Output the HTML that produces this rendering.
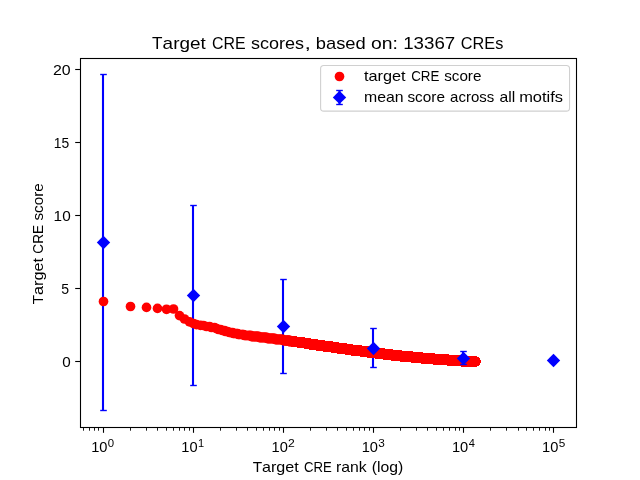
<!DOCTYPE html>
<html><head><meta charset="utf-8"><title>Target CRE scores</title>
<style>html,body{margin:0;padding:0;background:#fff;}body{width:640px;height:480px;overflow:hidden;}svg{display:block;will-change:transform;}text{font-family:"Liberation Sans",sans-serif;fill:#000;}</style></head><body>
<svg width="640" height="480" viewBox="0 0 640 480">
<rect width="640" height="480" fill="#fff"/>
<g stroke="#0000ff" stroke-width="2.1" fill="none">
<line x1="103.0" y1="74.50" x2="103.0" y2="410.50"/>
<line x1="193.0" y1="205.50" x2="193.0" y2="385.50"/>
<line x1="283.0" y1="279.50" x2="283.0" y2="373.50"/>
<line x1="373.0" y1="328.50" x2="373.0" y2="367.50"/>
<line x1="463.0" y1="351.50" x2="463.0" y2="364.50"/>
</g>
<g fill="#ff0000" stroke="none">
<circle cx="103.5" cy="301.50" r="4.85"/>
<circle cx="130.5" cy="306.50" r="4.85"/>
<circle cx="146.5" cy="307.40" r="4.85"/>
<circle cx="157.5" cy="308.40" r="4.85"/>
<circle cx="166.5" cy="309.30" r="4.85"/>
<circle cx="173.5" cy="309.00" r="4.85"/>
<circle cx="179.5" cy="315.60" r="4.85"/>
<circle cx="184.5" cy="319.00" r="4.85"/>
<circle cx="189.5" cy="321.90" r="4.85"/>
<circle cx="193.5" cy="323.50" r="4.85"/>
<circle cx="196.5" cy="324.62" r="4.85"/>
<circle cx="200.5" cy="325.34" r="4.85"/>
<circle cx="203.5" cy="325.50" r="4.85"/>
<circle cx="206.5" cy="326.50" r="4.85"/>
<circle cx="209.5" cy="326.50" r="4.85"/>
<circle cx="211.5" cy="327.50" r="4.85"/>
<circle cx="214.5" cy="327.50" r="4.85"/>
<circle cx="216.5" cy="328.50" r="4.85"/>
<circle cx="218.5" cy="329.50" r="4.85"/>
<circle cx="220.5" cy="329.50" r="4.85"/>
<circle cx="222.5" cy="330.50" r="4.85"/>
<circle cx="224.5" cy="330.50" r="4.85"/>
<circle cx="225.5" cy="331.50" r="4.85"/>
<circle cx="227.5" cy="331.50" r="4.85"/>
<circle cx="229.5" cy="332.50" r="4.85"/>
<circle cx="230.5" cy="332.50" r="4.85"/>
<circle cx="232.5" cy="332.50" r="4.85"/>
<circle cx="233.5" cy="333.50" r="4.85"/>
<circle cx="234.5" cy="333.50" r="4.85"/>
<circle cx="236.5" cy="333.50" r="4.85"/>
<circle cx="237.5" cy="333.50" r="4.85"/>
<circle cx="238.5" cy="334.50" r="4.85"/>
<circle cx="239.5" cy="334.50" r="4.85"/>
<circle cx="241.5" cy="334.50" r="4.85"/>
<circle cx="242.5" cy="334.50" r="4.85"/>
<circle cx="243.5" cy="334.50" r="4.85"/>
<circle cx="244.5" cy="335.50" r="4.85"/>
<circle cx="245.5" cy="335.50" r="4.85"/>
<circle cx="246.5" cy="335.50" r="4.85"/>
<circle cx="247.5" cy="335.50" r="4.86"/>
<circle cx="248.5" cy="335.50" r="4.87"/>
<circle cx="249.5" cy="335.50" r="4.87"/>
<circle cx="250.5" cy="335.50" r="4.88"/>
<circle cx="251.5" cy="336.50" r="4.89"/>
<circle cx="252.5" cy="336.50" r="4.90"/>
<circle cx="253.5" cy="336.50" r="4.91"/>
<circle cx="254.5" cy="336.50" r="4.92"/>
<circle cx="255.5" cy="336.50" r="4.92"/>
<circle cx="256.5" cy="336.50" r="4.93"/>
<circle cx="257.5" cy="336.50" r="4.94"/>
<circle cx="258.5" cy="336.50" r="4.95"/>
<circle cx="259.5" cy="337.50" r="4.95"/>
<circle cx="260.5" cy="337.50" r="4.97"/>
<circle cx="261.5" cy="337.50" r="4.97"/>
<circle cx="262.5" cy="337.50" r="4.98"/>
<circle cx="263.5" cy="337.50" r="4.99"/>
<circle cx="264.5" cy="337.50" r="4.99"/>
<circle cx="265.5" cy="337.50" r="5.00"/>
<circle cx="266.5" cy="337.50" r="5.01"/>
<circle cx="267.5" cy="338.50" r="5.01"/>
<circle cx="268.5" cy="338.50" r="5.02"/>
<circle cx="269.5" cy="338.50" r="5.03"/>
<circle cx="270.5" cy="338.50" r="5.04"/>
<circle cx="271.5" cy="338.50" r="5.04"/>
<circle cx="272.5" cy="338.50" r="5.05"/>
<circle cx="273.5" cy="338.50" r="5.05"/>
<circle cx="274.5" cy="338.50" r="5.06"/>
<circle cx="275.5" cy="339.50" r="5.07"/>
<circle cx="276.5" cy="339.50" r="5.07"/>
<circle cx="277.5" cy="339.50" r="5.08"/>
<circle cx="278.5" cy="339.50" r="5.08"/>
<circle cx="279.5" cy="339.50" r="5.09"/>
<circle cx="280.5" cy="339.50" r="5.09"/>
<circle cx="281.5" cy="339.50" r="5.10"/>
<circle cx="282.5" cy="339.50" r="5.11"/>
<circle cx="283.5" cy="340.50" r="5.11"/>
<circle cx="284.5" cy="340.50" r="5.12"/>
<circle cx="285.5" cy="340.50" r="5.12"/>
<circle cx="286.5" cy="340.50" r="5.13"/>
<circle cx="287.5" cy="340.50" r="5.13"/>
<circle cx="288.5" cy="340.50" r="5.14"/>
<circle cx="289.5" cy="340.50" r="5.14"/>
<circle cx="290.5" cy="341.50" r="5.15"/>
</g>
<g fill="#ff0000" stroke="none" shape-rendering="crispEdges">
<circle cx="291.5" cy="341.50" r="5.15"/>
<circle cx="292.5" cy="341.50" r="5.15"/>
<circle cx="293.5" cy="341.50" r="5.16"/>
<circle cx="294.5" cy="341.50" r="5.16"/>
<circle cx="295.5" cy="341.50" r="5.17"/>
<circle cx="296.5" cy="341.50" r="5.17"/>
<circle cx="297.5" cy="342.50" r="5.18"/>
<circle cx="298.5" cy="342.50" r="5.18"/>
<circle cx="299.5" cy="342.50" r="5.18"/>
<circle cx="300.5" cy="342.50" r="5.19"/>
<circle cx="301.5" cy="342.50" r="5.19"/>
<circle cx="302.5" cy="342.50" r="5.19"/>
<circle cx="303.5" cy="342.50" r="5.20"/>
<circle cx="304.5" cy="343.50" r="5.20"/>
<circle cx="305.5" cy="343.50" r="5.21"/>
<circle cx="306.5" cy="343.50" r="5.21"/>
<circle cx="307.5" cy="343.50" r="5.21"/>
<circle cx="308.5" cy="343.50" r="5.22"/>
<circle cx="309.5" cy="343.50" r="5.22"/>
<circle cx="310.5" cy="344.50" r="5.22"/>
<circle cx="311.5" cy="344.50" r="5.22"/>
<circle cx="312.5" cy="344.50" r="5.23"/>
<circle cx="313.5" cy="344.50" r="5.23"/>
<circle cx="314.5" cy="344.50" r="5.23"/>
<circle cx="315.5" cy="344.50" r="5.24"/>
<circle cx="316.5" cy="344.50" r="5.24"/>
<circle cx="317.5" cy="345.50" r="5.24"/>
<circle cx="318.5" cy="345.50" r="5.24"/>
<circle cx="319.5" cy="345.50" r="5.25"/>
<circle cx="320.5" cy="345.50" r="5.25"/>
<circle cx="321.5" cy="345.50" r="5.25"/>
<circle cx="322.5" cy="345.50" r="5.25"/>
<circle cx="323.5" cy="345.50" r="5.26"/>
<circle cx="324.5" cy="346.50" r="5.26"/>
<circle cx="325.5" cy="346.50" r="5.26"/>
<circle cx="326.5" cy="346.50" r="5.26"/>
<circle cx="327.5" cy="346.50" r="5.26"/>
<circle cx="328.5" cy="346.50" r="5.27"/>
<circle cx="329.5" cy="346.50" r="5.27"/>
<circle cx="330.5" cy="346.50" r="5.27"/>
<circle cx="331.5" cy="346.50" r="5.27"/>
<circle cx="332.5" cy="347.50" r="5.27"/>
<circle cx="333.5" cy="347.50" r="5.28"/>
<circle cx="334.5" cy="347.50" r="5.28"/>
<circle cx="335.5" cy="347.50" r="5.28"/>
<circle cx="336.5" cy="347.50" r="5.28"/>
<circle cx="337.5" cy="347.50" r="5.28"/>
<circle cx="338.5" cy="348.50" r="5.29"/>
<circle cx="339.5" cy="348.50" r="5.29"/>
<circle cx="340.5" cy="348.50" r="5.29"/>
<circle cx="341.5" cy="348.50" r="5.29"/>
<circle cx="342.5" cy="348.50" r="5.29"/>
<circle cx="343.5" cy="348.50" r="5.29"/>
<circle cx="344.5" cy="348.50" r="5.29"/>
<circle cx="345.5" cy="348.50" r="5.30"/>
<circle cx="346.5" cy="349.50" r="5.30"/>
<circle cx="347.5" cy="349.50" r="5.30"/>
<circle cx="348.5" cy="349.50" r="5.30"/>
<circle cx="349.5" cy="349.50" r="5.30"/>
<circle cx="350.5" cy="349.50" r="5.30"/>
<circle cx="351.5" cy="349.50" r="5.30"/>
<circle cx="352.5" cy="350.50" r="5.30"/>
<circle cx="353.5" cy="350.50" r="5.31"/>
<circle cx="354.5" cy="350.50" r="5.31"/>
<circle cx="355.5" cy="350.50" r="5.31"/>
<circle cx="356.5" cy="350.50" r="5.31"/>
<circle cx="357.5" cy="350.50" r="5.31"/>
<circle cx="358.5" cy="350.50" r="5.31"/>
<circle cx="359.5" cy="350.50" r="5.31"/>
<circle cx="360.5" cy="350.50" r="5.31"/>
<circle cx="361.5" cy="351.50" r="5.31"/>
<circle cx="362.5" cy="351.50" r="5.31"/>
<circle cx="363.5" cy="351.50" r="5.32"/>
<circle cx="364.5" cy="351.50" r="5.32"/>
<circle cx="365.5" cy="351.50" r="5.32"/>
<circle cx="366.5" cy="351.50" r="5.32"/>
<circle cx="367.5" cy="351.50" r="5.32"/>
<circle cx="368.5" cy="352.50" r="5.32"/>
<circle cx="369.5" cy="352.50" r="5.32"/>
<circle cx="370.5" cy="352.50" r="5.32"/>
<circle cx="371.5" cy="352.50" r="5.32"/>
<circle cx="372.5" cy="352.50" r="5.32"/>
<circle cx="373.5" cy="352.50" r="5.32"/>
<circle cx="374.5" cy="352.50" r="5.32"/>
<circle cx="375.5" cy="352.50" r="5.32"/>
<circle cx="376.5" cy="353.50" r="5.32"/>
<circle cx="377.5" cy="353.50" r="5.33"/>
<circle cx="378.5" cy="353.50" r="5.33"/>
<circle cx="379.5" cy="353.50" r="5.33"/>
<circle cx="380.5" cy="353.50" r="5.33"/>
<circle cx="381.5" cy="353.50" r="5.33"/>
<circle cx="382.5" cy="353.50" r="5.33"/>
<circle cx="383.5" cy="353.50" r="5.33"/>
<circle cx="384.5" cy="354.50" r="5.33"/>
<circle cx="385.5" cy="354.50" r="5.33"/>
<circle cx="386.5" cy="354.50" r="5.33"/>
<circle cx="387.5" cy="354.50" r="5.33"/>
<circle cx="388.5" cy="354.50" r="5.33"/>
<circle cx="389.5" cy="354.50" r="5.33"/>
<circle cx="390.5" cy="354.50" r="5.33"/>
<circle cx="391.5" cy="354.50" r="5.33"/>
<circle cx="392.5" cy="355.50" r="5.33"/>
<circle cx="393.5" cy="355.50" r="5.33"/>
<circle cx="394.5" cy="355.50" r="5.33"/>
<circle cx="395.5" cy="355.50" r="5.33"/>
<circle cx="396.5" cy="355.50" r="5.33"/>
<circle cx="397.5" cy="355.50" r="5.34"/>
<circle cx="398.5" cy="355.50" r="5.34"/>
<circle cx="399.5" cy="355.50" r="5.34"/>
<circle cx="400.5" cy="355.50" r="5.34"/>
<circle cx="401.5" cy="356.50" r="5.34"/>
<circle cx="402.5" cy="356.50" r="5.34"/>
<circle cx="403.5" cy="356.50" r="5.34"/>
<circle cx="404.5" cy="356.50" r="5.34"/>
<circle cx="405.5" cy="356.50" r="5.34"/>
<circle cx="406.5" cy="356.50" r="5.34"/>
<circle cx="407.5" cy="356.50" r="5.34"/>
<circle cx="408.5" cy="356.50" r="5.34"/>
<circle cx="409.5" cy="356.50" r="5.34"/>
<circle cx="410.5" cy="356.50" r="5.34"/>
<circle cx="411.5" cy="356.50" r="5.34"/>
<circle cx="412.5" cy="357.50" r="5.34"/>
<circle cx="413.5" cy="357.50" r="5.34"/>
<circle cx="414.5" cy="357.50" r="5.34"/>
<circle cx="415.5" cy="357.50" r="5.34"/>
<circle cx="416.5" cy="357.50" r="5.34"/>
<circle cx="417.5" cy="357.50" r="5.34"/>
<circle cx="418.5" cy="357.50" r="5.34"/>
<circle cx="419.5" cy="357.50" r="5.34"/>
<circle cx="420.5" cy="357.50" r="5.34"/>
<circle cx="421.5" cy="357.50" r="5.34"/>
<circle cx="422.5" cy="358.50" r="5.34"/>
<circle cx="423.5" cy="358.50" r="5.34"/>
<circle cx="424.5" cy="358.50" r="5.34"/>
<circle cx="425.5" cy="358.50" r="5.34"/>
<circle cx="426.5" cy="358.50" r="5.34"/>
<circle cx="427.5" cy="358.50" r="5.34"/>
<circle cx="428.5" cy="358.50" r="5.34"/>
<circle cx="429.5" cy="358.50" r="5.34"/>
<circle cx="430.5" cy="358.50" r="5.34"/>
<circle cx="431.5" cy="358.50" r="5.34"/>
<circle cx="432.5" cy="358.50" r="5.34"/>
<circle cx="433.5" cy="358.50" r="5.34"/>
<circle cx="434.5" cy="359.50" r="5.34"/>
<circle cx="435.5" cy="359.50" r="5.34"/>
<circle cx="436.5" cy="359.50" r="5.34"/>
<circle cx="437.5" cy="359.50" r="5.34"/>
<circle cx="438.5" cy="359.50" r="5.34"/>
<circle cx="439.5" cy="359.50" r="5.34"/>
<circle cx="440.5" cy="359.50" r="5.35"/>
<circle cx="441.5" cy="359.50" r="5.35"/>
<circle cx="442.5" cy="359.50" r="5.35"/>
<circle cx="443.5" cy="359.50" r="5.35"/>
<circle cx="444.5" cy="359.50" r="5.35"/>
<circle cx="445.5" cy="359.50" r="5.35"/>
<circle cx="446.5" cy="359.50" r="5.35"/>
<circle cx="447.5" cy="359.50" r="5.35"/>
<circle cx="448.5" cy="360.50" r="5.35"/>
<circle cx="449.5" cy="360.50" r="5.35"/>
<circle cx="450.5" cy="360.50" r="5.35"/>
<circle cx="451.5" cy="360.50" r="5.35"/>
<circle cx="452.5" cy="360.50" r="5.35"/>
<circle cx="453.5" cy="360.50" r="5.35"/>
<circle cx="454.5" cy="360.50" r="5.35"/>
<circle cx="455.5" cy="360.50" r="5.35"/>
<circle cx="456.5" cy="360.50" r="5.35"/>
<circle cx="457.5" cy="360.50" r="5.35"/>
<circle cx="458.5" cy="360.50" r="5.35"/>
<circle cx="459.5" cy="360.50" r="5.35"/>
<circle cx="460.5" cy="360.50" r="5.35"/>
<circle cx="461.5" cy="360.50" r="5.35"/>
<circle cx="462.5" cy="361.50" r="5.35"/>
<circle cx="463.5" cy="361.50" r="5.35"/>
<circle cx="464.5" cy="361.50" r="5.35"/>
<circle cx="465.5" cy="361.50" r="5.35"/>
<circle cx="466.5" cy="361.50" r="5.35"/>
<circle cx="467.5" cy="361.50" r="5.35"/>
<circle cx="468.5" cy="361.50" r="5.35"/>
<circle cx="469.5" cy="361.50" r="5.35"/>
<circle cx="470.5" cy="361.50" r="5.35"/>
<circle cx="471.5" cy="361.50" r="5.35"/>
<circle cx="472.5" cy="361.50" r="5.35"/>
<circle cx="473.5" cy="361.50" r="5.35"/>
<circle cx="474.5" cy="361.50" r="5.35"/>
<circle cx="475.5" cy="361.50" r="5.35"/>
</g>
<g stroke="#0000ff" stroke-width="1.39" fill="none">
<line x1="100.20" y1="74.50" x2="106.80" y2="74.50"/>
<line x1="100.20" y1="410.50" x2="106.80" y2="410.50"/>
<line x1="190.20" y1="205.50" x2="196.80" y2="205.50"/>
<line x1="190.20" y1="385.50" x2="196.80" y2="385.50"/>
<line x1="280.20" y1="279.50" x2="286.80" y2="279.50"/>
<line x1="280.20" y1="373.50" x2="286.80" y2="373.50"/>
<line x1="370.20" y1="328.50" x2="376.80" y2="328.50"/>
<line x1="370.20" y1="367.50" x2="376.80" y2="367.50"/>
<line x1="460.20" y1="351.50" x2="466.80" y2="351.50"/>
<line x1="460.20" y1="364.50" x2="466.80" y2="364.50"/>
</g>
<g fill="#0000ff" stroke="none">
<path d="M103.50,235.80 L110.20,242.50 L103.50,249.20 L96.80,242.50 Z"/>
<path d="M193.50,288.80 L200.20,295.50 L193.50,302.20 L186.80,295.50 Z"/>
<path d="M283.50,319.80 L290.20,326.50 L283.50,333.20 L276.80,326.50 Z"/>
<path d="M373.50,341.80 L380.20,348.50 L373.50,355.20 L366.80,348.50 Z"/>
<path d="M463.50,351.80 L470.20,358.50 L463.50,365.20 L456.80,358.50 Z"/>
<path d="M553.50,353.80 L560.20,360.50 L553.50,367.20 L546.80,360.50 Z"/>
</g>
<rect x="80.5" y="58.5" width="496.0" height="369.0" fill="none" stroke="#000" stroke-width="1.1"/>
<g stroke="#000" stroke-width="1.1" fill="none">
<line x1="103.5" y1="427.5" x2="103.5" y2="432.8"/>
<line x1="193.5" y1="427.5" x2="193.5" y2="432.8"/>
<line x1="283.5" y1="427.5" x2="283.5" y2="432.8"/>
<line x1="373.5" y1="427.5" x2="373.5" y2="432.8"/>
<line x1="463.5" y1="427.5" x2="463.5" y2="432.8"/>
<line x1="553.5" y1="427.5" x2="553.5" y2="432.8"/>
<line x1="83.5" y1="427.5" x2="83.5" y2="430.7" stroke-width="0.9"/>
<line x1="89.5" y1="427.5" x2="89.5" y2="430.7" stroke-width="0.9"/>
<line x1="94.5" y1="427.5" x2="94.5" y2="430.7" stroke-width="0.9"/>
<line x1="98.5" y1="427.5" x2="98.5" y2="430.7" stroke-width="0.9"/>
<line x1="130.5" y1="427.5" x2="130.5" y2="430.7" stroke-width="0.9"/>
<line x1="146.5" y1="427.5" x2="146.5" y2="430.7" stroke-width="0.9"/>
<line x1="157.5" y1="427.5" x2="157.5" y2="430.7" stroke-width="0.9"/>
<line x1="166.5" y1="427.5" x2="166.5" y2="430.7" stroke-width="0.9"/>
<line x1="173.5" y1="427.5" x2="173.5" y2="430.7" stroke-width="0.9"/>
<line x1="179.5" y1="427.5" x2="179.5" y2="430.7" stroke-width="0.9"/>
<line x1="184.5" y1="427.5" x2="184.5" y2="430.7" stroke-width="0.9"/>
<line x1="189.5" y1="427.5" x2="189.5" y2="430.7" stroke-width="0.9"/>
<line x1="220.5" y1="427.5" x2="220.5" y2="430.7" stroke-width="0.9"/>
<line x1="236.5" y1="427.5" x2="236.5" y2="430.7" stroke-width="0.9"/>
<line x1="247.5" y1="427.5" x2="247.5" y2="430.7" stroke-width="0.9"/>
<line x1="256.5" y1="427.5" x2="256.5" y2="430.7" stroke-width="0.9"/>
<line x1="263.5" y1="427.5" x2="263.5" y2="430.7" stroke-width="0.9"/>
<line x1="269.5" y1="427.5" x2="269.5" y2="430.7" stroke-width="0.9"/>
<line x1="274.5" y1="427.5" x2="274.5" y2="430.7" stroke-width="0.9"/>
<line x1="279.5" y1="427.5" x2="279.5" y2="430.7" stroke-width="0.9"/>
<line x1="310.5" y1="427.5" x2="310.5" y2="430.7" stroke-width="0.9"/>
<line x1="326.5" y1="427.5" x2="326.5" y2="430.7" stroke-width="0.9"/>
<line x1="337.5" y1="427.5" x2="337.5" y2="430.7" stroke-width="0.9"/>
<line x1="346.5" y1="427.5" x2="346.5" y2="430.7" stroke-width="0.9"/>
<line x1="353.5" y1="427.5" x2="353.5" y2="430.7" stroke-width="0.9"/>
<line x1="359.5" y1="427.5" x2="359.5" y2="430.7" stroke-width="0.9"/>
<line x1="364.5" y1="427.5" x2="364.5" y2="430.7" stroke-width="0.9"/>
<line x1="369.5" y1="427.5" x2="369.5" y2="430.7" stroke-width="0.9"/>
<line x1="400.5" y1="427.5" x2="400.5" y2="430.7" stroke-width="0.9"/>
<line x1="416.5" y1="427.5" x2="416.5" y2="430.7" stroke-width="0.9"/>
<line x1="427.5" y1="427.5" x2="427.5" y2="430.7" stroke-width="0.9"/>
<line x1="436.5" y1="427.5" x2="436.5" y2="430.7" stroke-width="0.9"/>
<line x1="443.5" y1="427.5" x2="443.5" y2="430.7" stroke-width="0.9"/>
<line x1="449.5" y1="427.5" x2="449.5" y2="430.7" stroke-width="0.9"/>
<line x1="455.5" y1="427.5" x2="455.5" y2="430.7" stroke-width="0.9"/>
<line x1="459.5" y1="427.5" x2="459.5" y2="430.7" stroke-width="0.9"/>
<line x1="490.5" y1="427.5" x2="490.5" y2="430.7" stroke-width="0.9"/>
<line x1="506.5" y1="427.5" x2="506.5" y2="430.7" stroke-width="0.9"/>
<line x1="518.5" y1="427.5" x2="518.5" y2="430.7" stroke-width="0.9"/>
<line x1="526.5" y1="427.5" x2="526.5" y2="430.7" stroke-width="0.9"/>
<line x1="533.5" y1="427.5" x2="533.5" y2="430.7" stroke-width="0.9"/>
<line x1="539.5" y1="427.5" x2="539.5" y2="430.7" stroke-width="0.9"/>
<line x1="545.5" y1="427.5" x2="545.5" y2="430.7" stroke-width="0.9"/>
<line x1="549.5" y1="427.5" x2="549.5" y2="430.7" stroke-width="0.9"/>
<line x1="75.2" y1="361.5" x2="80.5" y2="361.5"/>
<line x1="75.2" y1="288.5" x2="80.5" y2="288.5"/>
<line x1="75.2" y1="215.5" x2="80.5" y2="215.5"/>
<line x1="75.2" y1="142.5" x2="80.5" y2="142.5"/>
<line x1="75.2" y1="69.5" x2="80.5" y2="69.5"/>
</g>
<rect x="320.6" y="65.55" width="248.95" height="45.6" rx="3.2" ry="3.2" fill="#fff" fill-opacity="0.8" stroke="#d0d0d0" stroke-width="1.1"/>
<circle cx="339.5" cy="76.5" r="4.85" fill="#ff0000"/>
<line x1="339.5" y1="90.5" x2="339.5" y2="104.5" stroke="#0000ff" stroke-width="2.1"/>
<line x1="336.2" y1="90.5" x2="342.8" y2="90.5" stroke="#0000ff" stroke-width="1.39"/>
<line x1="336.2" y1="104.5" x2="342.8" y2="104.5" stroke="#0000ff" stroke-width="1.39"/>
<path d="M339.5,90.7 L346.2,97.4 L339.5,104.10000000000001 L332.8,97.4 Z" fill="#0000ff"/>
<text x="151.93" y="49.00" font-size="17.0" textLength="10.46" lengthAdjust="spacingAndGlyphs">T</text>
<text x="162.61" y="49.00" font-size="17.0" textLength="43.13" lengthAdjust="spacingAndGlyphs">arget</text>
<text x="212.05" y="49.00" font-size="17.0" textLength="33.61" lengthAdjust="spacingAndGlyphs">CRE</text>
<text x="251.02" y="49.00" font-size="17.0" textLength="53.04" lengthAdjust="spacingAndGlyphs">scores</text>
<text x="304.59" y="49.00" font-size="17.0" textLength="6.45" lengthAdjust="spacingAndGlyphs">,</text>
<text x="315.75" y="49.00" font-size="17.0" textLength="49.98" lengthAdjust="spacingAndGlyphs">based</text>
<text x="370.99" y="49.00" font-size="17.0" textLength="26.96" lengthAdjust="spacingAndGlyphs">on:</text>
<text x="403.23" y="49.00" font-size="17.0" textLength="52.03" lengthAdjust="spacingAndGlyphs">13367</text>
<text x="460.84" y="49.00" font-size="17.0" textLength="42.47" lengthAdjust="spacingAndGlyphs">CREs</text>
<text x="252.66" y="472.00" font-size="14.2" textLength="9.40" lengthAdjust="spacingAndGlyphs">T</text>
<text x="262.00" y="472.00" font-size="14.2" textLength="36.70" lengthAdjust="spacingAndGlyphs">arget</text>
<text x="303.98" y="472.00" font-size="14.2" textLength="27.82" lengthAdjust="spacingAndGlyphs">CRE</text>
<text x="336.01" y="472.00" font-size="14.2" textLength="30.74" lengthAdjust="spacingAndGlyphs">rank</text>
<text x="371.76" y="472.00" font-size="14.2" textLength="31.56" lengthAdjust="spacingAndGlyphs">(log)</text>
<text transform="translate(42.70,304.24) rotate(-90)" font-size="14.2" textLength="9.30" lengthAdjust="spacingAndGlyphs">T</text>
<text transform="translate(42.70,295.01) rotate(-90)" font-size="14.2" textLength="37.05" lengthAdjust="spacingAndGlyphs">arget</text>
<text transform="translate(42.70,253.64) rotate(-90)" font-size="14.2" textLength="28.71" lengthAdjust="spacingAndGlyphs">CRE</text>
<text transform="translate(42.70,220.54) rotate(-90)" font-size="14.2" textLength="37.36" lengthAdjust="spacingAndGlyphs">score</text>
<text x="364.00" y="81.00" font-size="14.2" textLength="41.64" lengthAdjust="spacingAndGlyphs">target</text>
<text x="411.17" y="81.00" font-size="14.2" textLength="28.19" lengthAdjust="spacingAndGlyphs">CRE</text>
<text x="444.16" y="81.00" font-size="14.2" textLength="37.26" lengthAdjust="spacingAndGlyphs">score</text>
<text x="364.01" y="102.00" font-size="14.2" textLength="39.58" lengthAdjust="spacingAndGlyphs">mean</text>
<text x="407.46" y="102.00" font-size="14.2" textLength="37.46" lengthAdjust="spacingAndGlyphs">score</text>
<text x="450.13" y="102.00" font-size="14.2" textLength="44.14" lengthAdjust="spacingAndGlyphs">across</text>
<text x="499.41" y="102.00" font-size="14.2" textLength="15.73" lengthAdjust="spacingAndGlyphs">all</text>
<text x="519.17" y="102.00" font-size="14.2" textLength="43.84" lengthAdjust="spacingAndGlyphs">motifs</text>
<text x="62.23" y="366.90" font-size="14.2" textLength="8.45" lengthAdjust="spacingAndGlyphs">0</text>
<text x="61.36" y="293.90" font-size="14.2" textLength="7.81" lengthAdjust="spacingAndGlyphs">5</text>
<text x="53.64" y="220.90" font-size="14.2" textLength="17.04" lengthAdjust="spacingAndGlyphs">10</text>
<text x="53.73" y="147.90" font-size="14.2" textLength="15.43" lengthAdjust="spacingAndGlyphs">15</text>
<text x="53.00" y="74.90" font-size="14.2" textLength="17.69" lengthAdjust="spacingAndGlyphs">20</text>
<text x="91.18" y="452.00" font-size="14.2" textLength="16.28" lengthAdjust="spacingAndGlyphs">10</text>
<text x="107.84" y="447.00" font-size="10.0" textLength="6.34" lengthAdjust="spacingAndGlyphs">0</text>
<text x="181.36" y="452.00" font-size="14.2" textLength="16.28" lengthAdjust="spacingAndGlyphs">10</text>
<text x="198.04" y="447.00" font-size="10.0" textLength="6.14" lengthAdjust="spacingAndGlyphs">1</text>
<text x="271.54" y="452.00" font-size="14.2" textLength="16.28" lengthAdjust="spacingAndGlyphs">10</text>
<text x="287.99" y="447.00" font-size="10.0" textLength="6.76" lengthAdjust="spacingAndGlyphs">2</text>
<text x="361.72" y="452.00" font-size="14.2" textLength="16.28" lengthAdjust="spacingAndGlyphs">10</text>
<text x="378.37" y="447.00" font-size="10.0" textLength="6.54" lengthAdjust="spacingAndGlyphs">3</text>
<text x="451.90" y="452.00" font-size="14.2" textLength="16.28" lengthAdjust="spacingAndGlyphs">10</text>
<text x="468.74" y="447.00" font-size="10.0" textLength="6.15" lengthAdjust="spacingAndGlyphs">4</text>
<text x="542.08" y="452.00" font-size="14.2" textLength="16.28" lengthAdjust="spacingAndGlyphs">10</text>
<text x="558.73" y="447.00" font-size="10.0" textLength="6.54" lengthAdjust="spacingAndGlyphs">5</text>
</svg></body></html>
